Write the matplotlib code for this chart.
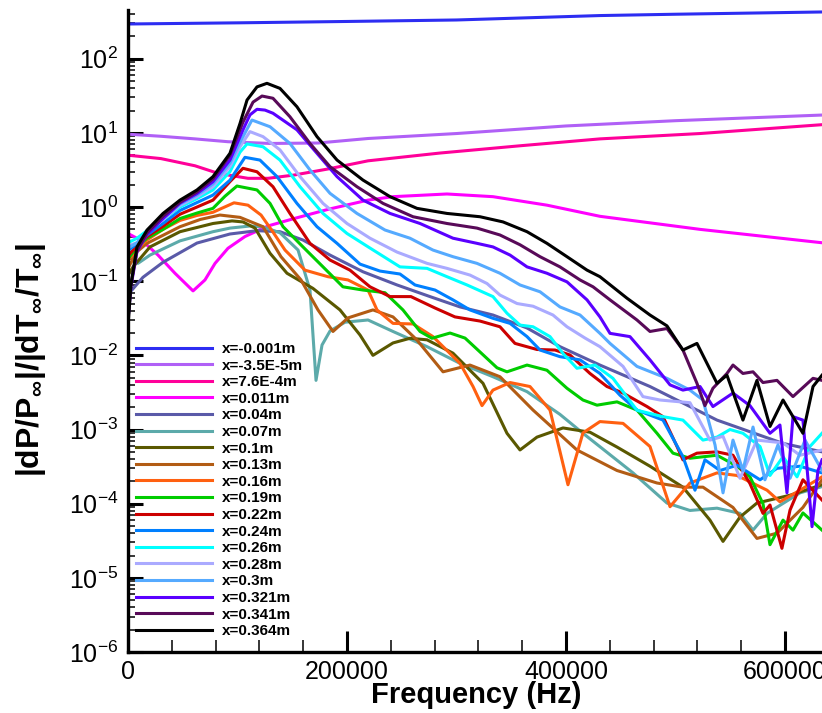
import matplotlib
matplotlib.use("Agg")
import matplotlib.pyplot as plt
from matplotlib.ticker import LogLocator, MultipleLocator, NullFormatter, FixedLocator

plt.rcParams['font.family'] = ['Liberation Sans', 'DejaVu Sans']
plt.rcParams['mathtext.fontset'] = 'custom'
plt.rcParams['mathtext.rm'] = 'Liberation Sans'
plt.rcParams['mathtext.it'] = 'Liberation Sans:italic'
plt.rcParams['mathtext.bf'] = 'Liberation Sans:bold'

# ---------------- data (frequency in Hz, amplitude) ----------------
labels = ["x=-0.001m", "x=-3.5E-5m", "x=7.6E-4m", "x=0.011m", "x=0.04m", "x=0.07m",
          "x=0.1m", "x=0.13m", "x=0.16m", "x=0.19m", "x=0.22m", "x=0.24m",
          "x=0.26m", "x=0.28m", "x=0.3m", "x=0.321m", "x=0.341m", "x=0.364m"]
colors = ["#2d2df2", "#b060f6", "#ff0099", "#ff00ff", "#5a5aa8", "#5caaaa",
          "#5a5800", "#b25c14", "#ff6010", "#00cc00", "#cc0000", "#0080ff",
          "#00ffff", "#aaaaff", "#55aaff", "#5a00ff", "#580a58", "#000000"]

f_01 = [0, 102300, 200000, 300000, 431000, 500000, 633800]
a_01 = [294, 305, 318, 333, 382, 398, 427]

f_02 = [0, 30100, 61200, 91300, 129700, 173500, 219200, 300000, 400000, 500000, 633800]
a_02 = [9.6, 9.0, 8.3, 7.6, 7.2, 7.3, 8.4, 9.8, 12.4, 14.6, 17.4]

f_03 = [0, 30100, 61200, 82200, 109600, 127900, 151600, 182600, 219200, 285000, 358000, 431000, 522400, 633800]
a_03 = [5.0, 4.5, 3.6, 2.85, 2.44, 2.44, 2.7, 3.26, 4.2, 5.35, 6.7, 8.3, 9.8, 12.9]

f_04 = [0, 13700, 27400, 42900, 59400, 70300, 79500, 91300, 106800, 127900, 152500, 182600,
        219200, 242000, 291300, 333300, 382600, 431000, 522400, 633800]
a_04 = [0.44, 0.343, 0.225, 0.128, 0.074, 0.104, 0.174, 0.278, 0.40, 0.556, 0.705, 0.93,
        1.24, 1.38, 1.50, 1.38, 1.06, 0.75, 0.50, 0.33]

f_05 = [0, 1800, 13700, 32000, 63000, 93100, 117800, 138800, 159800, 184500, 214600, 245700,
        275800, 303200, 333300, 364400, 394500, 431000, 476700, 537900, 598200, 633800]
a_05 = [0.065, 0.071, 0.113, 0.18, 0.327, 0.433, 0.48, 0.465, 0.359, 0.225, 0.134, 0.089,
        0.062, 0.045, 0.035, 0.0234, 0.0131, 0.0074, 0.0038, 0.00134, 0.00065, 0.0005]

f_06 = [0, 9100, 20100, 47500, 77600, 93100, 111400, 123300, 138800, 155300, 166200, 171700,
        177200, 184500, 198200, 219200, 242000, 273100, 303200, 333300, 364400, 394500,
        415500, 461200, 492200, 513200, 537900, 558900, 570800, 583600, 613700, 633800]
a_06 = [0.26, 0.174, 0.225, 0.35, 0.465, 0.52, 0.555, 0.54, 0.45, 0.263, 0.076, 0.0046,
        0.0138, 0.0213, 0.028, 0.030, 0.021, 0.0131, 0.0078, 0.00515, 0.00324, 0.0016,
        0.00089, 0.00026, 0.000102, 8.1e-5, 8.7e-5, 7.4e-5, 4.4e-5, 7.4e-5, 1.4e-4, 1.7e-4]

f_07 = [0, 4600, 20100, 47500, 77600, 95000, 105000, 116000, 129700, 145200, 168900, 193600,
        211900, 223700, 242000, 257500, 273100, 296800, 324200, 346100, 358000, 373500,
        397300, 421900, 446600, 476700, 506800, 531500, 543400, 558900, 574400, 604600, 633800]
a_07 = [0.12, 0.156, 0.29, 0.465, 0.60, 0.65, 0.63, 0.52, 0.238, 0.128, 0.080, 0.041,
        0.0188, 0.010, 0.0147, 0.017, 0.0162, 0.0107, 0.0042, 8.9e-4, 5.3e-4, 7.9e-4,
        1.05e-3, 9.2e-4, 5.8e-4, 3.2e-4, 1.67e-4, 6.0e-5, 3.1e-5, 6.6e-5, 1.02e-4, 1.3e-4, 1.8e-4]

f_08 = [0, 8200, 17400, 47500, 66000, 84000, 102300, 123300, 139700, 158000, 173500, 187200,
        200900, 223700, 242000, 263900, 287700, 312300, 339700, 369900, 410000, 446600,
        483100, 506800, 525100, 552500, 574400, 592700, 616400, 633800]
a_08 = [0.15, 0.25, 0.324, 0.543, 0.68, 0.78, 0.726, 0.543, 0.214, 0.104, 0.041, 0.021,
        0.032, 0.041, 0.033, 0.0161, 0.006, 0.0074, 0.00515, 0.00183, 5.3e-4, 2.8e-4,
        1.9e-4, 1.67e-4, 1.67e-4, 8.9e-5, 3.4e-5, 4.0e-5, 8.9e-5, 2.1e-4]

f_09 = [0, 8200, 17400, 32000, 47500, 63000, 77600, 96800, 109600, 121500, 132400, 143400,
        161600, 182600, 200900, 219200, 227400, 242000, 260300, 278500, 303200, 315100,
        323300, 333300, 348900, 367100, 385400, 401800, 415500, 431000, 452100, 476700,
        495000, 513200, 537900, 556200, 583600, 595400, 613700, 633800]
a_09 = [0.19, 0.27, 0.36, 0.5, 0.66, 0.77, 0.85, 1.14, 1.06, 0.78, 0.46, 0.263,
        0.141, 0.115, 0.104, 0.076, 0.041, 0.027, 0.0265, 0.0179, 0.0078, 0.0038,
        0.0021, 0.0034, 0.0043, 0.0038, 0.00183, 1.8e-4, 9.0e-4, 1.28e-3, 1.21e-3, 5.9e-4,
        9.1e-5, 1.9e-4, 2.6e-4, 2.4e-4, 1.52e-4, 1.06e-4, 1.52e-4, 2.3e-4]

f_10 = [0, 8200, 17400, 32000, 47500, 63000, 77600, 88600, 99500, 117800, 129700, 141600,
        159800, 178100, 196300, 214600, 234700, 251100, 266700, 277600, 294100, 307800,
        321500, 337000, 346100, 364400, 382600, 400900, 415500, 428300, 446600, 464800,
        483100, 497700, 513200, 537900, 556200, 568000, 579900, 586300, 598200, 607300,
        616400, 633800]
a_10 = [0.2, 0.29, 0.38, 0.5, 0.7, 0.83, 0.96, 1.4, 1.92, 1.70, 1.12, 0.543,
        0.29, 0.156, 0.084, 0.076, 0.070, 0.041, 0.021, 0.017, 0.020, 0.0171,
        0.0111, 0.0068, 0.006, 0.0074, 0.0063, 0.0036, 0.0025, 0.00213, 0.00236, 0.00183,
        8.9e-4, 4.8e-4, 4.1e-4, 4.5e-4, 3.2e-4, 2.3e-4, 1.0e-4, 2.8e-5, 6.0e-5, 4.4e-5,
        7.5e-5, 4.4e-5]

f_11 = [0, 8200, 17400, 32000, 47500, 63000, 77600, 93100, 105000, 117800, 132400, 147900,
        166200, 184500, 202700, 221000, 239300, 258400, 280400, 298600, 321500, 339700,
        353400, 373500, 390000, 403700, 421900, 437400, 452100, 474000, 488600, 501400,
        506800, 519600, 537900, 552500, 568000, 579900, 586300, 597200, 604600, 616400, 633800]
a_11 = [0.22, 0.3, 0.4, 0.55, 0.8, 1.0, 1.24, 2.2, 3.33, 2.99, 1.88, 0.82,
        0.324, 0.193, 0.141, 0.084, 0.062, 0.062, 0.0435, 0.033, 0.029, 0.0243,
        0.0145, 0.012, 0.0118, 0.0101, 0.0057, 0.0038, 0.0031, 0.00204, 0.00149, 5.9e-4,
        3.9e-4, 4.8e-4, 5.0e-4, 4.5e-4, 1.87e-4, 7.4e-5, 9.6e-5, 2.5e-5, 8.2e-5, 2.1e-4, 1.12e-4]

f_12 = [0, 8200, 17400, 32000, 47500, 63000, 77600, 93100, 106800, 120500, 136100, 154300,
        172600, 190900, 211900, 230100, 248400, 262100, 280400, 296800, 312300, 333300,
        348900, 364400, 376300, 394500, 412800, 431000, 449300, 464800, 488600, 506800,
        517800, 526900, 540600, 556200, 577200, 592700, 613700, 633800]
a_12 = [0.26, 0.32, 0.42, 0.6, 0.9, 1.15, 1.45, 2.3, 4.68, 4.3, 2.57, 1.12,
        0.543, 0.324, 0.17, 0.137, 0.125, 0.089, 0.076, 0.056, 0.041, 0.0316,
        0.027, 0.0179, 0.0118, 0.0096, 0.0087, 0.0057, 0.0029, 0.00183, 0.00134, 4.3e-4,
        1.52e-4, 3.9e-4, 2.8e-4, 3.3e-4, 2.1e-4, 3.0e-4, 3.2e-4, 2.6e-4]

f_13 = [0, 8200, 17400, 32000, 47500, 63000, 77600, 93100, 102300, 108700, 123300, 138800,
        157100, 178100, 200000, 221000, 248400, 273100, 291300, 309600, 333300, 346100,
        358000, 369900, 385400, 397300, 410000, 426500, 442900, 464800, 488600, 506800,
        525100, 537900, 549800, 561600, 577200, 586300, 598200, 611000, 622800, 633800]
a_13 = [0.33, 0.38, 0.48, 0.68, 1.0, 1.3, 1.7, 3.0, 5.5, 7.1, 6.5, 4.3,
        1.88, 0.82, 0.44, 0.28, 0.156, 0.149, 0.115, 0.089, 0.062, 0.037,
        0.0256, 0.0243, 0.0179, 0.0106, 0.0067, 0.0074, 0.0049, 0.00182, 0.00149, 0.00134,
        7.2e-4, 7.9e-4, 1.0e-3, 8.9e-4, 5.9e-4, 2.4e-4, 4.3e-4, 2.3e-4, 5.9e-4, 8.9e-4]

f_14 = [0, 8200, 17400, 32000, 47500, 63000, 77600, 93100, 102300, 111400, 123300, 138800,
        157100, 178100, 200000, 221000, 245700, 273100, 291300, 312300, 327900, 339700,
        355300, 369900, 388100, 400900, 417400, 431000, 452100, 470300, 485800, 513200,
        531500, 543400, 558900, 574400, 598200, 613700, 633800]
a_14 = [0.3, 0.33, 0.45, 0.68, 1.05, 1.38, 1.88, 3.5, 6.5, 10.4, 8.9, 5.9,
        2.57, 1.12, 0.60, 0.38, 0.247, 0.174, 0.149, 0.121, 0.093, 0.065,
        0.050, 0.046, 0.035, 0.0243, 0.0171, 0.0131, 0.0071, 0.00278, 0.0025, 0.0023,
        7.2e-4, 8.1e-4, 2.2e-4, 7.2e-4, 6.6e-4, 4.5e-4, 5.3e-4]

f_15 = [0, 8200, 17400, 32000, 47500, 63000, 77600, 93100, 102300, 113200, 129700, 147900,
        166200, 184500, 209100, 234700, 257500, 278500, 296800, 318700, 339700, 358000,
        376300, 394500, 412800, 431000, 440200, 464800, 492200, 513200, 525100, 536100,
        543400, 552500, 561600, 570800, 581700, 593600, 604600, 618300, 633800]
a_15 = [0.28, 0.33, 0.46, 0.71, 1.1, 1.45, 2.05, 3.9, 7.5, 14.9, 12.1, 7.2,
        3.16, 1.53, 0.82, 0.49, 0.38, 0.263, 0.214, 0.174, 0.128, 0.089,
        0.072, 0.045, 0.035, 0.0198, 0.0145, 0.0071, 0.0049, 0.0034, 0.0025, 6.2e-4,
        1.4e-4, 7.2e-4, 2.8e-4, 1.08e-3, 2.1e-4, 6.2e-4, 2.2e-4, 7.2e-4, 2.8e-4]

f_16 = [0, 2700, 8200, 17400, 32000, 47500, 63000, 77600, 93100, 105000, 111400, 117800,
        125100, 132400, 154300, 172600, 190900, 214600, 239300, 266700, 296800, 318700,
        333300, 348900, 364400, 382600, 400900, 419200, 431000, 440200, 458400, 476700,
        495000, 506800, 522400, 534200, 552500, 568000, 586300, 595400, 601800, 607300,
        616400, 624700, 630100, 633800]
a_16 = [0.03, 0.085, 0.25, 0.43, 0.70, 1.13, 1.52, 2.2, 4.3, 11.0, 17.5, 20.8,
        20.3, 18.4, 11.0, 5.3, 2.57, 1.24, 0.82, 0.60, 0.38, 0.324,
        0.29, 0.225, 0.156, 0.128, 0.098, 0.056, 0.033, 0.0198, 0.0179, 0.0087,
        0.004, 0.0034, 0.0038, 0.00204, 0.0031, 0.0021, 8.9e-4, 1.15e-3, 1.4e-4, 1.49e-3,
        1.34e-3, 4.9e-5, 2.8e-4, 3.9e-4]

f_17 = [0, 2700, 8200, 17400, 32000, 47500, 63000, 77600, 93100, 105000, 114200, 122400,
        132400, 147900, 166200, 184500, 209100, 232900, 260300, 291300, 318700, 339700,
        358000, 376300, 394500, 412800, 424700, 440200, 464800, 476700, 492200, 506800,
        519600, 526900, 534200, 547000, 552500, 561600, 570800, 579900, 592700, 607300,
        625600, 633800]
a_17 = [0.03, 0.09, 0.26, 0.45, 0.75, 1.16, 1.6, 2.4, 5.0, 14.0, 26.0, 31.4,
        29.3, 16.5, 7.2, 3.5, 1.88, 1.12, 0.74, 0.60, 0.52, 0.42,
        0.31, 0.214, 0.156, 0.104, 0.084, 0.056, 0.030, 0.021, 0.023, 0.0118,
        0.0042, 0.0021, 0.0036, 0.0057, 0.0074, 0.0057, 0.006, 0.0043, 0.0046, 0.00278,
        0.0049, 0.0046]

f_18 = [0, 2700, 8200, 17400, 32000, 47500, 63000, 77600, 93100, 102300, 108700, 117800,
        126900, 138800, 154300, 172600, 190900, 214600, 239300, 263900, 291300, 321500,
        342500, 364400, 382600, 400900, 419200, 431000, 455700, 476700, 492200, 506800,
        519600, 537900, 547000, 561600, 574400, 586300, 598200, 616400, 625600, 633800]
a_18 = [0.025, 0.09, 0.29, 0.49, 0.82, 1.24, 1.70, 2.57, 5.3, 13.4, 27.7, 41.7,
        46.6, 39.8, 22.5, 8.9, 4.3, 2.31, 1.38, 0.96, 0.82, 0.74,
        0.63, 0.465, 0.324, 0.214, 0.141, 0.115, 0.059, 0.035, 0.025, 0.0118,
        0.0145, 0.0042, 0.0054, 0.00134, 0.0046, 0.0011, 0.0025, 8.9e-4, 0.0038, 0.0054]

freqs = [f_01, f_02, f_03, f_04, f_05, f_06, f_07, f_08, f_09, f_10, f_11, f_12,
         f_13, f_14, f_15, f_16, f_17, f_18]
amps = [a_01, a_02, a_03, a_04, a_05, a_06, a_07, a_08, a_09, a_10, a_11, a_12,
        a_13, a_14, a_15, a_16, a_17, a_18]

x_major = [0, 200000, 400000, 600000]
x_labels = ["0", "200000", "400000", "600000"]

# ---------------- figure ----------------
W, H = 822, 713
fig = plt.figure(figsize=(W / 100, H / 100), dpi=100)
ax = fig.add_axes([128 / W, 61 / H, 694 / W, 642 / H])

for f, a, c, lab in zip(freqs, amps, colors, labels):
    ax.plot(f, a, color=c, lw=2.2, label=lab, solid_joinstyle='round')

ax.set_yscale('log')
ax.set_ylim(1e-6, 10 ** 2.657)
ax.set_xlim(0, 633800)

ax.xaxis.set_major_locator(FixedLocator(x_major))
ax.set_xticklabels(x_labels)
ax.xaxis.set_minor_locator(MultipleLocator(40000))
ax.yaxis.set_major_locator(FixedLocator([10.0 ** k for k in range(-6, 3)]))
ax.yaxis.set_minor_locator(LogLocator(base=10, subs=range(2, 10), numticks=100))
ax.yaxis.set_minor_formatter(NullFormatter())

for s in ['top', 'right']:
    ax.spines[s].set_visible(False)
for s in ['left', 'bottom']:
    ax.spines[s].set_linewidth(2.4)

ax.tick_params(axis='x', which='major', direction='in', length=15, width=2.2, labelsize=18, pad=6)
ax.tick_params(axis='x', which='minor', direction='in', length=9, width=1.1)
ax.tick_params(axis='y', which='major', direction='in', length=11, width=2.2, labelsize=18, pad=7)
ax.tick_params(axis='y', which='minor', direction='in', length=5, width=1.1)

fig.text(476 / W, 1 - 695 / H, 'Frequency (Hz)', fontsize=21, fontweight='bold',
         ha='center', va='center')
fig.text(31 / W, 1 - 360 / H, r'$\mathbf{|dP/P_{\infty}|/|dT_{\infty}/T_{\infty}|}$',
         fontsize=23, rotation=90, ha='center', va='center')

leg = ax.legend(loc='upper left', bbox_to_anchor=(8 / 694, (652 - 342) / 642),
                frameon=False, borderpad=0, borderaxespad=0, handlelength=5.0,
                handletextpad=0.65, labelspacing=0.17,
                prop={'family': 'Liberation Sans', 'weight': 'bold', 'size': 11})
for line in leg.get_lines():
    line.set_linewidth(2.2)

fig.savefig('out.png', dpi=100)
